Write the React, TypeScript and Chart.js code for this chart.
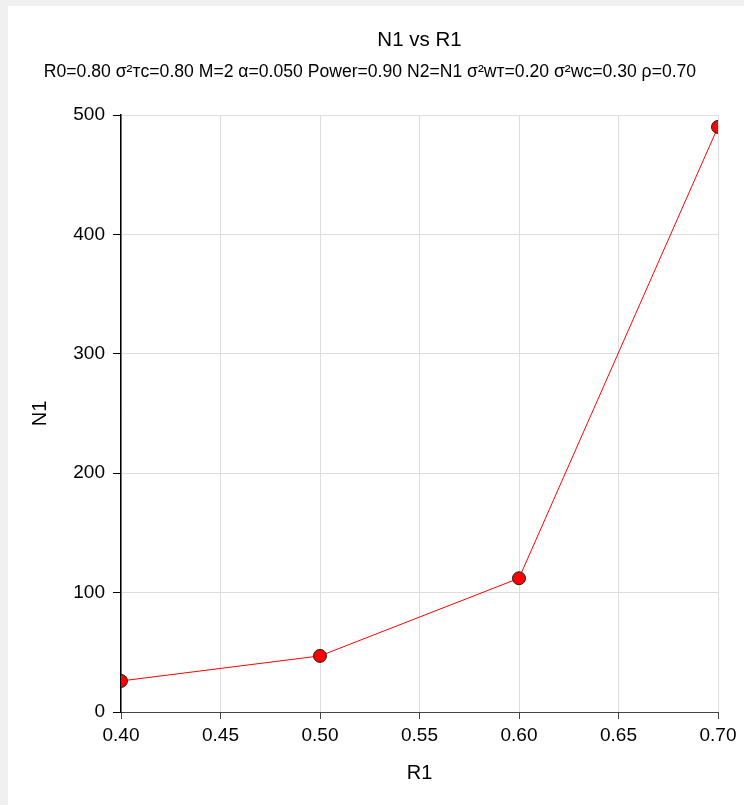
import React, { useEffect, useRef } from "react";
import { Chart, registerables } from "chart.js";

Chart.register(...registerables);

const r1Values = [0.4, 0.5, 0.6, 0.7];
const n1Values = [26, 47, 112, 490];
const chartTitle = "N1 vs R1";
const chartSubtitle =
  "R0=0.80 σ²ᴛc=0.80 M=2 α=0.050 Power=0.90 N2=N1 σ²wᴛ=0.20 σ²wc=0.30 ρ=0.70";
const xTitle = "R1";
const yTitle = "N1";

const FONT = "'Liberation Sans', Arial, sans-serif";

const titlePlugin = {
  id: "customTitles",
  afterDraw(chart: any) {
    const { ctx, chartArea } = chart;
    ctx.save();
    ctx.fillStyle = "#000";
    ctx.textAlign = "center";
    ctx.textBaseline = "middle";
    ctx.font = `20.5px ${FONT}`;
    ctx.fillText(chartTitle, (chartArea.left + chartArea.right) / 2, 34);
    ctx.font = `17.6px ${FONT}`;
    ctx.fillText(chartSubtitle, 362, 66);
    ctx.restore();
  },
};

export default function App() {
  const ref = useRef<HTMLCanvasElement>(null);
  useEffect(() => {
    document.body.style.margin = "0";
    document.body.style.background = "#f0f0f0";
    const chart = new Chart(ref.current!, {
      type: "line",
      data: {
        datasets: [
          {
            data: r1Values.map((x, i) => ({ x, y: n1Values[i] })),
            borderColor: "#ff0000",
            borderWidth: 1,
            backgroundColor: "#ff0000",
            pointRadius: 6.5,
            pointBorderColor: "#222",
            pointBorderWidth: 1,
            tension: 0,
          },
        ],
      },
      options: {
        animation: false,
        responsive: false,
        layout: { padding: { top: 109, left: 0, right: 26, bottom: 0 } },
        plugins: { legend: { display: false }, tooltip: { enabled: false } },
        scales: {
          x: {
            type: "linear",
            min: 0.4,
            max: 0.7,
            afterFit: (s: any) => {
              s.height = 93;
            },
            ticks: {
              stepSize: 0.05,
              color: "#000",
              padding: 5,
              font: { family: FONT, size: 19 },
              callback: (v: any) => Number(v).toFixed(2),
            },
            grid: { color: "#dddddd", tickColor: "#444", tickLength: 7 },
            border: { color: "#444", width: 1 },
            title: {
              display: true,
              text: xTitle,
              color: "#000",
              font: { family: FONT, size: 20 },
              padding: { top: 0, bottom: 20 },
            },
          },
          y: {
            type: "linear",
            min: 0,
            max: 500,
            afterFit: (s: any) => {
              s.width = 113;
            },
            ticks: {
              stepSize: 100,
              color: "#000",
              padding: 8,
              font: { family: FONT, size: 19 },
            },
            grid: { color: "#dddddd", tickColor: "#000", tickLength: 8 },
            border: { color: "#000", width: 1.5 },
            title: {
              display: true,
              text: yTitle,
              color: "#000",
              font: { family: FONT, size: 20 },
              padding: { top: 20, bottom: 0 },
            },
          },
        },
      },
      plugins: [titlePlugin],
    });
    return () => chart.destroy();
  }, []);
  return (
    <div
      style={{
        marginLeft: 8,
        marginTop: 6,
        width: 736,
        height: 799,
        background: "#fff",
      }}
    >
      <canvas ref={ref} width={736} height={799} style={{ display: "block" }} />
    </div>
  );
}
